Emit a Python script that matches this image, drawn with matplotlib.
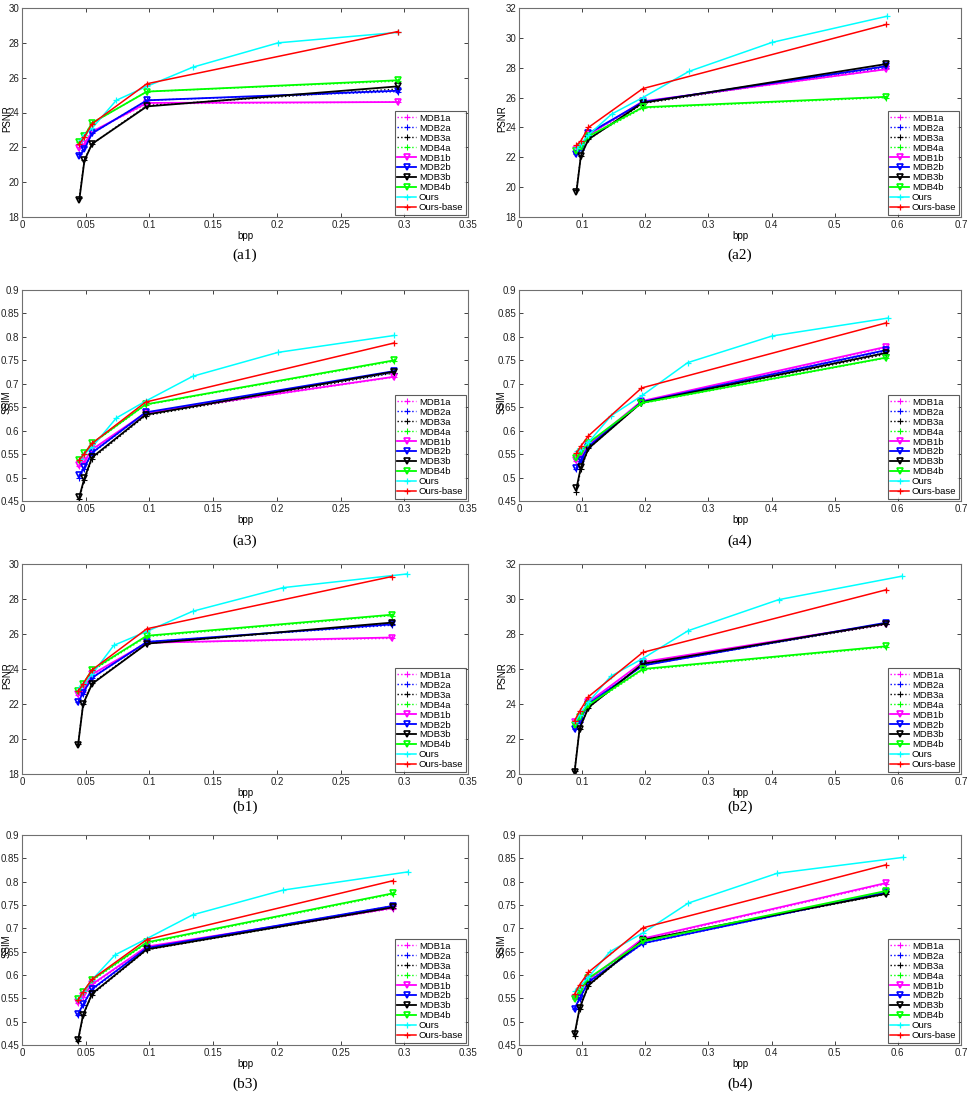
import matplotlib
matplotlib.use("Agg")
import matplotlib.pyplot as plt
import matplotlib.ticker as mtick
import numpy as np

# ── Style ─────────────────────────────────────────────────────────────────────

matplotlib.rcParams.update({
    "font.family":      ["Liberation Sans", "DejaVu Sans"],
    "font.size":        7,
    "xtick.labelsize":  7,
    "ytick.labelsize":  7,
    "xtick.direction":  "in",
    "ytick.direction":  "in",
    "xtick.top":        True,
    "ytick.right":      True,
    "xtick.major.size": 3,
    "ytick.major.size": 3,
})

AXIS_GREY = "#707070"

LABELS = ["MDB1a", "MDB2a", "MDB3a", "MDB4a",
          "MDB1b", "MDB2b", "MDB3b", "MDB4b", "Ours", "Ours-base"]
COLOURS = ["#ff00ff", "#0000ff", "#000000", "#00ff00",
           "#ff00ff", "#0000ff", "#000000", "#00ff00", "#00ffff", "#ff0000"]

# ── Data ─────────────────────────────────────────────────────────────────────

# (a1) PSNR
A1_X = [0.045, 0.049, 0.055, 0.098, 0.295]
A1_MDB1A = [22.0, 22.2, 22.9, 24.5, 24.6]
A1_MDB2A = [21.6, 22.0, 22.8, 24.7, 25.2]
A1_MDB3A = [19.1, 21.3, 22.2, 24.4, 25.35]
A1_MDB4A = [22.3, 22.7, 23.4, 25.2, 25.8]
A1_MDB1B = [21.95, 22.2, 22.9, 24.55, 24.6]
A1_MDB2B = [21.5, 21.9, 22.8, 24.7, 25.25]
A1_MDB3B = [19.0, 21.25, 22.2, 24.35, 25.5]
A1_MDB4B = [22.3, 22.65, 23.4, 25.2, 25.85]
A1_OURS_X = [0.046, 0.049, 0.055, 0.074, 0.098, 0.134, 0.201, 0.295]
A1_OURS = [22.4, 22.7, 23.1, 24.7, 25.5, 26.6, 28.0, 28.6]
A1_BASE = [22.2, 22.6, 23.35, 25.65, 28.65]

# (a2) PSNR
A2_X = [0.091, 0.098, 0.110, 0.196, 0.582]
A2_MDB1A = [22.5, 22.8, 23.5, 25.7, 27.9]
A2_MDB2A = [22.2, 22.5, 23.5, 25.7, 28.0]
A2_MDB3A = [19.8, 22.1, 23.2, 25.6, 28.1]
A2_MDB4A = [22.3, 22.6, 23.3, 25.3, 26.0]
A2_MDB1B = [22.5, 22.7, 23.5, 25.75, 27.9]
A2_MDB2B = [22.2, 22.6, 23.6, 25.7, 28.1]
A2_MDB3B = [19.7, 22.1, 23.2, 25.65, 28.25]
A2_MDB4B = [22.4, 22.7, 23.4, 25.35, 26.05]
A2_OURS_X = [0.092, 0.098, 0.110, 0.147, 0.196, 0.269, 0.401, 0.583]
A2_OURS = [22.6, 22.9, 23.5, 24.9, 26.0, 27.75, 29.7, 31.45]
A2_BASE = [22.8, 23.1, 24.0, 26.6, 30.9]

# (a3) SSIM
A3_X = [0.045, 0.049, 0.055, 0.097, 0.292]
A3_MDB1A = [0.525, 0.533, 0.558, 0.637, 0.714]
A3_MDB2A = [0.500, 0.518, 0.552, 0.638, 0.724]
A3_MDB3A = [0.455, 0.495, 0.540, 0.632, 0.723]
A3_MDB4A = [0.536, 0.550, 0.572, 0.655, 0.748]
A3_MDB1B = [0.527, 0.535, 0.560, 0.638, 0.715]
A3_MDB2B = [0.505, 0.522, 0.553, 0.639, 0.727]
A3_MDB3B = [0.459, 0.499, 0.543, 0.634, 0.726]
A3_MDB4B = [0.538, 0.552, 0.573, 0.656, 0.750]
A3_OURS_X = [0.046, 0.049, 0.055, 0.074, 0.097, 0.134, 0.201, 0.292]
A3_OURS = [0.540, 0.550, 0.565, 0.627, 0.663, 0.716, 0.767, 0.803]
A3_BASE = [0.538, 0.551, 0.573, 0.661, 0.787]

# (a4) SSIM
A4_X = [0.091, 0.098, 0.110, 0.194, 0.582]
A4_MDB1A = [0.535, 0.545, 0.568, 0.662, 0.777]
A4_MDB2A = [0.518, 0.535, 0.565, 0.660, 0.770]
A4_MDB3A = [0.470, 0.518, 0.562, 0.660, 0.763]
A4_MDB4A = [0.540, 0.553, 0.573, 0.658, 0.755]
A4_MDB1B = [0.538, 0.548, 0.570, 0.663, 0.779]
A4_MDB2B = [0.521, 0.538, 0.566, 0.661, 0.772]
A4_MDB3B = [0.477, 0.522, 0.562, 0.660, 0.766]
A4_MDB4B = [0.541, 0.555, 0.574, 0.659, 0.756]
A4_OURS_X = [0.092, 0.098, 0.110, 0.146, 0.195, 0.267, 0.401, 0.584]
A4_OURS = [0.556, 0.560, 0.575, 0.632, 0.675, 0.745, 0.802, 0.840]
A4_BASE = [0.552, 0.567, 0.589, 0.691, 0.830]

# (b1) PSNR
B1_X = [0.044, 0.048, 0.055, 0.098, 0.290]
B1_MDB1A = [22.5, 22.7, 23.6, 25.5, 25.75]
B1_MDB2A = [22.1, 22.6, 23.5, 25.55, 26.5]
B1_MDB3A = [19.7, 22.0, 23.2, 25.45, 26.6]
B1_MDB4A = [22.7, 23.1, 23.9, 25.85, 27.05]
B1_MDB1B = [22.6, 22.8, 23.7, 25.5, 25.8]
B1_MDB2B = [22.1, 22.65, 23.5, 25.55, 26.55]
B1_MDB3B = [19.65, 22.0, 23.15, 25.45, 26.65]
B1_MDB4B = [22.75, 23.15, 23.95, 25.9, 27.1]
B1_OURS_X = [0.045, 0.049, 0.055, 0.072, 0.098, 0.134, 0.205, 0.302]
B1_OURS = [22.9, 23.2, 23.7, 25.35, 26.15, 27.3, 28.65, 29.43]
B1_BASE = [22.72, 23.16, 23.95, 26.3, 29.28]

# (b2) PSNR
B2_X = [0.088, 0.096, 0.110, 0.196, 0.582]
B2_MDB1A = [22.9, 23.0, 24.1, 26.35, 28.55]
B2_MDB2A = [22.6, 23.0, 24.0, 26.2, 28.6]
B2_MDB3A = [20.2, 22.6, 23.8, 26.25, 28.55]
B2_MDB4A = [22.8, 23.2, 23.9, 25.95, 27.25]
B2_MDB1B = [22.95, 23.1, 24.1, 26.4, 28.6]
B2_MDB2B = [22.55, 23.05, 24.0, 26.2, 28.65]
B2_MDB3B = [20.1, 22.6, 23.8, 26.3, 28.6]
B2_MDB4B = [22.8, 23.25, 23.95, 26.0, 27.3]
B2_OURS_X = [0.089, 0.096, 0.110, 0.145, 0.196, 0.268, 0.411, 0.606]
B2_OURS = [23.0, 23.4, 24.1, 25.58, 26.6, 28.19, 29.96, 31.3]
B2_BASE = [23.05, 23.58, 24.42, 26.95, 30.53]

# (b3) SSIM
B3_X = [0.044, 0.048, 0.055, 0.098, 0.291]
B3_MDB1A = [0.540, 0.553, 0.578, 0.660, 0.742]
B3_MDB2A = [0.515, 0.535, 0.568, 0.657, 0.748]
B3_MDB3A = [0.458, 0.514, 0.558, 0.654, 0.744]
B3_MDB4A = [0.546, 0.561, 0.588, 0.668, 0.773]
B3_MDB1B = [0.543, 0.556, 0.580, 0.661, 0.744]
B3_MDB2B = [0.517, 0.537, 0.570, 0.658, 0.748]
B3_MDB3B = [0.461, 0.515, 0.560, 0.655, 0.745]
B3_MDB4B = [0.548, 0.563, 0.590, 0.670, 0.775]
B3_OURS_X = [0.045, 0.049, 0.055, 0.073, 0.098, 0.134, 0.205, 0.303]
B3_OURS = [0.550, 0.566, 0.590, 0.643, 0.678, 0.729, 0.782, 0.821]
B3_BASE = [0.546, 0.564, 0.591, 0.676, 0.802]

# (b4) SSIM
B4_X = [0.088, 0.096, 0.110, 0.196, 0.581]
B4_MDB1A = [0.548, 0.563, 0.588, 0.676, 0.795]
B4_MDB2A = [0.527, 0.548, 0.583, 0.667, 0.777]
B4_MDB3A = [0.470, 0.528, 0.577, 0.673, 0.773]
B4_MDB4A = [0.550, 0.565, 0.592, 0.670, 0.779]
B4_MDB1B = [0.550, 0.565, 0.590, 0.678, 0.797]
B4_MDB2B = [0.528, 0.550, 0.585, 0.668, 0.777]
B4_MDB3B = [0.473, 0.529, 0.578, 0.675, 0.774]
B4_MDB4B = [0.549, 0.566, 0.593, 0.672, 0.780]
B4_OURS_X = [0.089, 0.096, 0.110, 0.144, 0.196, 0.268, 0.409, 0.608]
B4_OURS = [0.565, 0.575, 0.595, 0.650, 0.690, 0.754, 0.818, 0.852]
B4_BASE = [0.559, 0.579, 0.606, 0.701, 0.836]

# Panel table built from the arrays above
PANELS = [
    ("(a1)", "PSNR", A1_X, [A1_MDB1A, A1_MDB2A, A1_MDB3A, A1_MDB4A,
                            A1_MDB1B, A1_MDB2B, A1_MDB3B, A1_MDB4B],
     A1_OURS_X, A1_OURS, A1_BASE, (0, 0.35, 0.05), (18, 30, 2)),
    ("(a2)", "PSNR", A2_X, [A2_MDB1A, A2_MDB2A, A2_MDB3A, A2_MDB4A,
                            A2_MDB1B, A2_MDB2B, A2_MDB3B, A2_MDB4B],
     A2_OURS_X, A2_OURS, A2_BASE, (0, 0.7, 0.1), (18, 32, 2)),
    ("(a3)", "SSIM", A3_X, [A3_MDB1A, A3_MDB2A, A3_MDB3A, A3_MDB4A,
                            A3_MDB1B, A3_MDB2B, A3_MDB3B, A3_MDB4B],
     A3_OURS_X, A3_OURS, A3_BASE, (0, 0.35, 0.05), (0.45, 0.9, 0.05)),
    ("(a4)", "SSIM", A4_X, [A4_MDB1A, A4_MDB2A, A4_MDB3A, A4_MDB4A,
                            A4_MDB1B, A4_MDB2B, A4_MDB3B, A4_MDB4B],
     A4_OURS_X, A4_OURS, A4_BASE, (0, 0.7, 0.1), (0.45, 0.9, 0.05)),
    ("(b1)", "PSNR", B1_X, [B1_MDB1A, B1_MDB2A, B1_MDB3A, B1_MDB4A,
                            B1_MDB1B, B1_MDB2B, B1_MDB3B, B1_MDB4B],
     B1_OURS_X, B1_OURS, B1_BASE, (0, 0.35, 0.05), (18, 30, 2)),
    ("(b2)", "PSNR", B2_X, [B2_MDB1A, B2_MDB2A, B2_MDB3A, B2_MDB4A,
                            B2_MDB1B, B2_MDB2B, B2_MDB3B, B2_MDB4B],
     B2_OURS_X, B2_OURS, B2_BASE, (0, 0.7, 0.1), (20, 32, 2)),
    ("(b3)", "SSIM", B3_X, [B3_MDB1A, B3_MDB2A, B3_MDB3A, B3_MDB4A,
                            B3_MDB1B, B3_MDB2B, B3_MDB3B, B3_MDB4B],
     B3_OURS_X, B3_OURS, B3_BASE, (0, 0.35, 0.05), (0.45, 0.9, 0.05)),
    ("(b4)", "SSIM", B4_X, [B4_MDB1A, B4_MDB2A, B4_MDB3A, B4_MDB4A,
                            B4_MDB1B, B4_MDB2B, B4_MDB3B, B4_MDB4B],
     B4_OURS_X, B4_OURS, B4_BASE, (0, 0.7, 0.1), (0.45, 0.9, 0.05)),
]

# ── Layout (pixel boxes in a 969x1098 canvas) ────────────────────────────────

W, H = 969, 1098
COL_X = [(22, 468), (519, 961)]
ROW_Y = [(8, 217), (290, 501), (564, 774), (835, 1045)]
CAPTION_Y = [255, 541, 807, 1084]
YLABEL_RIGHT = [12, 507]   # right edge of the rotated y label, in pixels

fig = plt.figure(figsize=(W / 100, H / 100), dpi=100)


def fmt(v, _):
    return "%g" % round(v, 3)


for i, (cap, ylab, x, mdb, ox, oy, base, xr, yr) in enumerate(PANELS):
    row, col = divmod(i, 2)
    x0, x1 = COL_X[col]
    y0, y1 = ROW_Y[row]
    ax = fig.add_axes([x0 / W, 1 - y1 / H, (x1 - x0) / W, (y1 - y0) / H])

    for k in range(4):
        ax.plot(x, mdb[k], color=COLOURS[k], linestyle=":", linewidth=1.0,
                marker="+", markersize=4, markeredgewidth=0.8, label=LABELS[k])
    for k in range(4, 8):
        ax.plot(x, mdb[k], color=COLOURS[k], linestyle="-", linewidth=1.3,
                marker="v", markersize=4.5, markerfacecolor="none",
                markeredgewidth=1.2, label=LABELS[k])
    ax.plot(ox, oy, color=COLOURS[8], linewidth=1.1, marker="+",
            markersize=4, markeredgewidth=0.9, label=LABELS[8])
    ax.plot(x, base, color=COLOURS[9], linewidth=1.1, marker="+",
            markersize=4, markeredgewidth=0.9, label=LABELS[9])

    ax.set_xlim(xr[0], xr[1])
    ax.set_ylim(yr[0], yr[1])
    ax.set_xticks(np.arange(xr[0], xr[1] + xr[2] / 2, xr[2]))
    ax.set_yticks(np.arange(yr[0], yr[1] + yr[2] / 2, yr[2]))
    ax.xaxis.set_major_formatter(mtick.FuncFormatter(fmt))
    ax.yaxis.set_major_formatter(mtick.FuncFormatter(fmt))
    ax.tick_params(colors="#222222", pad=2, width=0.6)
    for s in ax.spines.values():
        s.set_color(AXIS_GREY)
        s.set_linewidth(0.8)

    ax.set_xlabel("bpp", fontsize=7, labelpad=1)
    ax.set_ylabel(ylab, fontsize=7)
    # label sits over the tick labels, as in the original export
    ax.yaxis.set_label_coords((YLABEL_RIGHT[col] - x0) / (x1 - x0), 0.47)
    leg = ax.legend(loc="lower right", fontsize=6.8, frameon=True, fancybox=False,
                    handlelength=2.0, handletextpad=0.3, labelspacing=0.1,
                    borderpad=0.25, borderaxespad=0.25)
    leg.get_frame().set_edgecolor("#333333")
    leg.get_frame().set_linewidth(0.8)

    fig.text((x0 + x1) / 2 / W, 1 - CAPTION_Y[row] / H, cap,
             ha="center", va="center", fontsize=11,
             family=["Liberation Serif", "DejaVu Serif"])

fig.savefig("out.png", dpi=100)
